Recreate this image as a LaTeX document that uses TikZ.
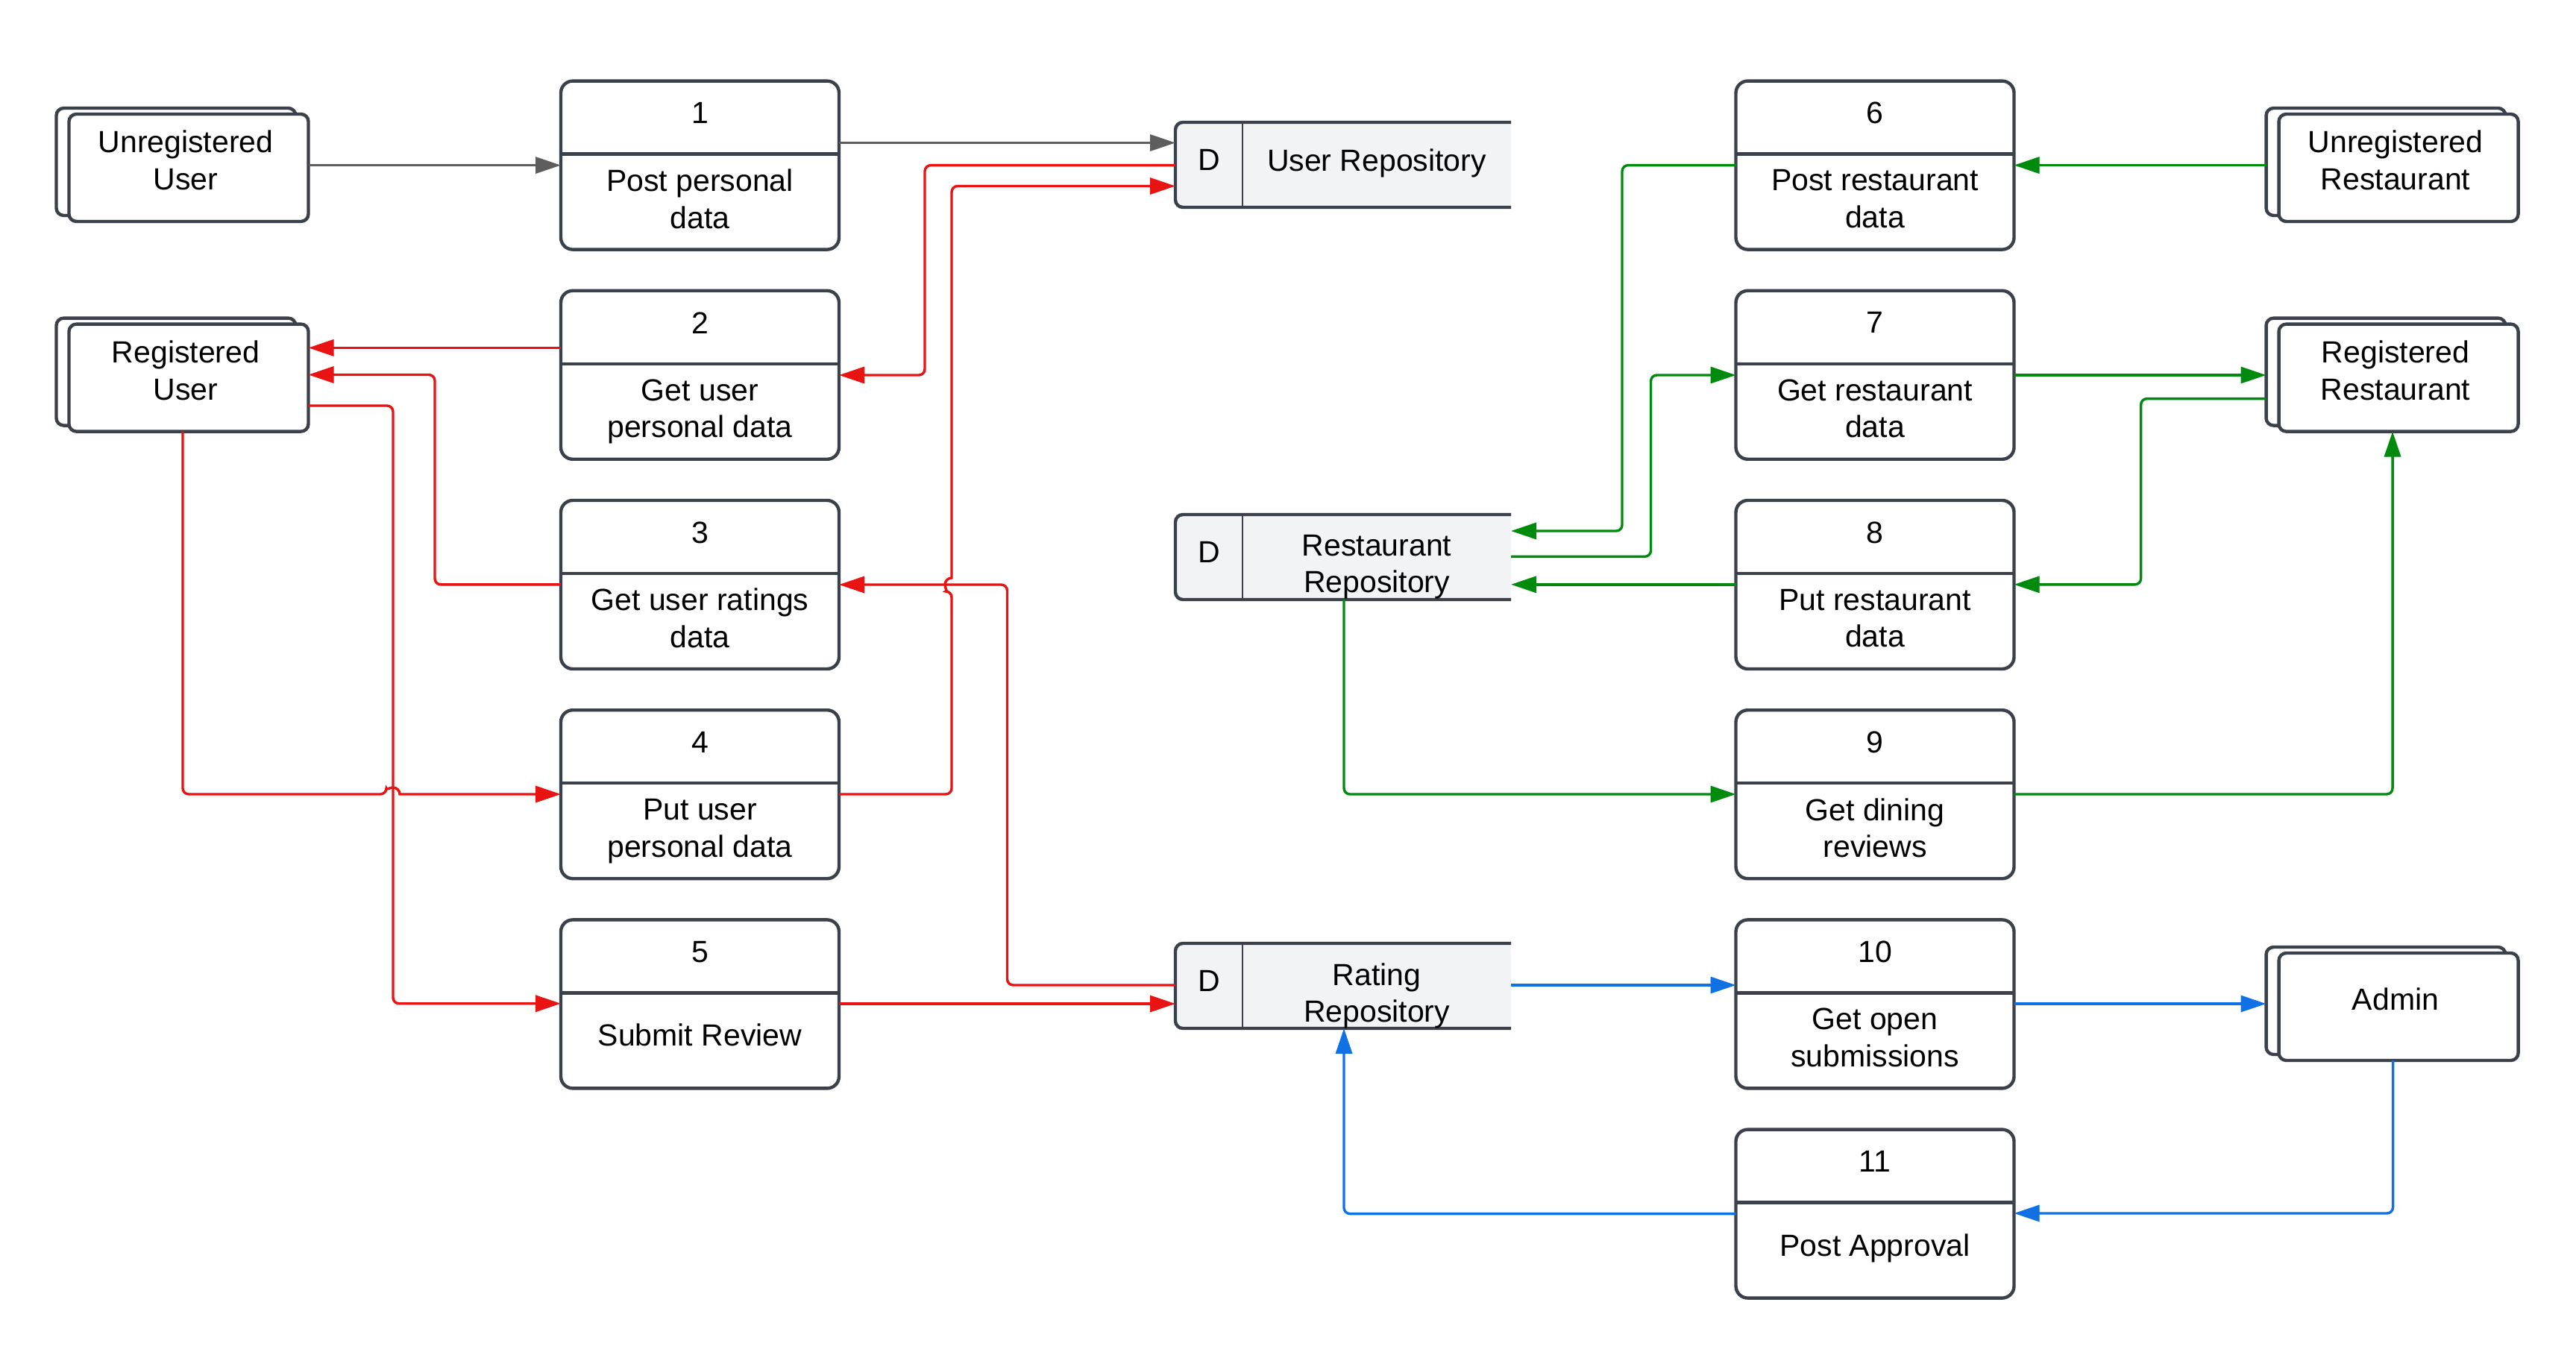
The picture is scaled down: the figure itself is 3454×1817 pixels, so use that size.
\documentclass[tikz,border=0pt]{standalone}
\usepackage{fontspec}
\setmainfont{Liberation Sans}
\usetikzlibrary{arrows.meta}
\definecolor{cred}{HTML}{E81313}
\definecolor{cgreen}{HTML}{008A0E}
\definecolor{cblue}{HTML}{1071E5}
\definecolor{cgray}{HTML}{5E5E5E}
\definecolor{cstroke}{HTML}{3A414A}
\definecolor{cstore}{HTML}{F2F3F5}
\tikzset{
  pbox/.style={draw=cstroke, line width=1.1pt, rounded corners=4pt, fill=white,
    minimum width=93.25pt, minimum height=56.5pt, inner sep=0pt, outer sep=0pt},
  ebox/.style={draw=cstroke, line width=1.1pt, rounded corners=2.5pt, fill=white,
    inner sep=0pt, outer sep=0pt},
  boxline/.style={draw=cstroke, line width=1.1pt},
  lbl/.style={font=\fontsize{10.25pt}{12.4pt}\selectfont, align=center, inner sep=0pt, text=black},
  conn/.style={line width=0.85pt, rounded corners=2pt, -{Triangle[length=8.5pt,width=5.5pt]}},
}
\newcommand\myproc[6]{%
  \node[pbox, anchor=north] (#1) at (#2,#3) {};
  \draw[boxline] (#1.north west) ++(0,98) -- ++(373,0);
  \node[lbl] (#1-n) at (#2,#3+43) {#4};
  \node[lbl] (#1-t) at (#2,#3+#6) {#5};
}
\newcommand\myent[4]{%
  \draw[ebox] (#2-177.5,#3-8) rectangle ++(321,144);
  \coordinate (#1-bw) at (#2-177.5,#3+64);
  \node[ebox, minimum width=80.25pt, minimum height=36pt, anchor=north] (#1) at (#2,#3) {};
  \node[lbl] (#1-t) at (#2-4,#3+62) {#4};
}
\newcommand\mystore[4]{% name, top, text offset, text
  \fill[cstore, rounded corners=2.5pt] (1576,#2) rectangle (2026,#2+114);
  \fill[cstore] (1900,#2) rectangle (2026,#2+114);
  \draw[cstroke, line width=1.1pt, rounded corners=2.5pt] (2026,#2) -- (1576,#2) -- (1576,#2+114) -- (2026,#2+114);
  \draw[cstroke, line width=0.6pt] (1666,#2) -- (1666,#2+114);
  \node[inner sep=0pt, outer sep=0pt, minimum width=112.5pt, minimum height=28.5pt] (#1) at (1801,#2+57) {};
  \node[lbl] (#1-d) at (1621,#2+50) {D};
  \node[lbl] (#1-t) at (1846,#2+#3) {#4};
}
\begin{document}
\begin{tikzpicture}[x=0.25pt, y=-0.25pt]
\fill[white] (0,0) rectangle (3454,1817);
\useasboundingbox (0,0) rectangle (3454,1817);

% processes
\myproc{p1}{938.5}{108.6}{1}{Post personal\\data}{158}
\myproc{p2}{938.5}{389.8}{2}{Get user\\personal data}{162.3}
\myproc{p3}{938.5}{671}{3}{Get user ratings\\data}{158}
\myproc{p4}{938.5}{952.2}{4}{Put user\\personal data}{162.3}
\myproc{p5}{938.5}{1233.4}{5}{Submit Review}{154.3}
\myproc{p6}{2514}{108.6}{6}{Post restaurant\\data}{158}
\myproc{p7}{2514}{389.8}{7}{Get restaurant\\data}{158}
\myproc{p8}{2514}{671}{8}{Put restaurant\\data}{158}
\myproc{p9}{2514}{952.2}{9}{Get dining\\reviews}{158}
\myproc{p10}{2514}{1233.4}{10}{Get open\\submissions}{158}
\myproc{p11}{2514}{1514.6}{11}{Post Approval}{159}

% entities
\myent{uu}{253}{153}{Unregistered\\User}
\myent{ru}{253}{434.6}{Registered\\User}
\myent{ur}{3216}{153}{Unregistered\\Restaurant}
\myent{rr}{3216}{434.6}{Registered\\Restaurant}
\myent{ad}{3216}{1278}{Admin}

% data stores
\mystore{us}{164}{54.5}{User Repository}
\mystore{rs}{690}{70}{Restaurant\\Repository}
\mystore{rts}{1265}{70.5}{Rating\\Repository}

% gray
\draw[conn, cgray] (uu.east |- 0,221.6) -- (p1.west |- 0,221.6);
\draw[conn, cgray] (p1.east |- 0,191.5) -- (us.west |- 0,191.5);

% red
\draw[conn, cred] (p2.west |- 0,466.4) -- (ru.east |- 0,466.4);
\draw[conn, cred] (p3.west |- 0,783.8) -- (583,783.8) -- (583,502.5) -- (ru.east |- 0,502.5);
\draw[conn, cred] (ru.east |- 0,544) -- (527,544) -- (527,1345.7) -- (p5.west |- 0,1345.7);
\draw[conn, cred] (245,0 |- ru.south) -- (245,1065) -- (518,1065) [sharp corners] arc[start angle=180, end angle=0, radius=2.25pt] -- (p4.west |- 0,1065);
\draw[conn, cred] (p4.east |- 0,1065) -- (1276,1065) -- (1276,793) [sharp corners] arc[start angle=270, end angle=90, radius=2.25pt] [rounded corners=2pt] -- (1276,249.5) -- (us.west |- 0,249.5);
\draw[conn, cred] (us.west |- 0,221.6) -- (1240,221.6) -- (1240,503) -- (p2.east |- 0,503);
\draw[conn, cred] (rts.west |- 0,1321) -- (1350.5,1321) -- (1350.5,784) -- (p3.east |- 0,784);
\draw[conn, cred] (p5.east |- 0,1346) -- (rts.west |- 0,1346);

% green
\draw[conn, cgreen] (ur-bw |- 0,221.6) -- (p6.east |- 0,221.6);
\draw[conn, cgreen] (p7.east |- 0,503) -- (rr-bw |- 0,503);
\draw[conn, cgreen] (rr-bw |- 0,534.6) -- (2870.6,534.6) -- (2870.6,783.8) -- (p8.east |- 0,783.8);
\draw[conn, cgreen] (p9.east |- 0,1065) -- (3208,1065) -- (3208,0 |- rr.south);
\draw[conn, cgreen] (p6.west |- 0,221.6) -- (2175,221.6) -- (2175,712) -- (rs.east |- 0,712);
\draw[conn, cgreen] (rs.east |- 0,746.3) -- (2213.5,746.3) -- (2213.5,503) -- (p7.west |- 0,503);
\draw[conn, cgreen] (p8.west |- 0,783.8) -- (rs.east |- 0,783.8);
\draw[conn, cgreen] (1802,0 |- rs.south) -- (1802,1065) -- (p9.west |- 0,1065);

% blue
\draw[conn, cblue] (rts.east |- 0,1321) -- (p10.west |- 0,1321);
\draw[conn, cblue] (p10.east |- 0,1346) -- (ad-bw |- 0,1346);
\draw[conn, cblue] (3208.5,0 |- ad.south) -- (3208.5,1627) -- (p11.east |- 0,1627);
\draw[conn, cblue] (p11.west |- 0,1627.6) -- (1802,1627.6) -- (1802,0 |- rts.south);
\end{tikzpicture}
\end{document}
